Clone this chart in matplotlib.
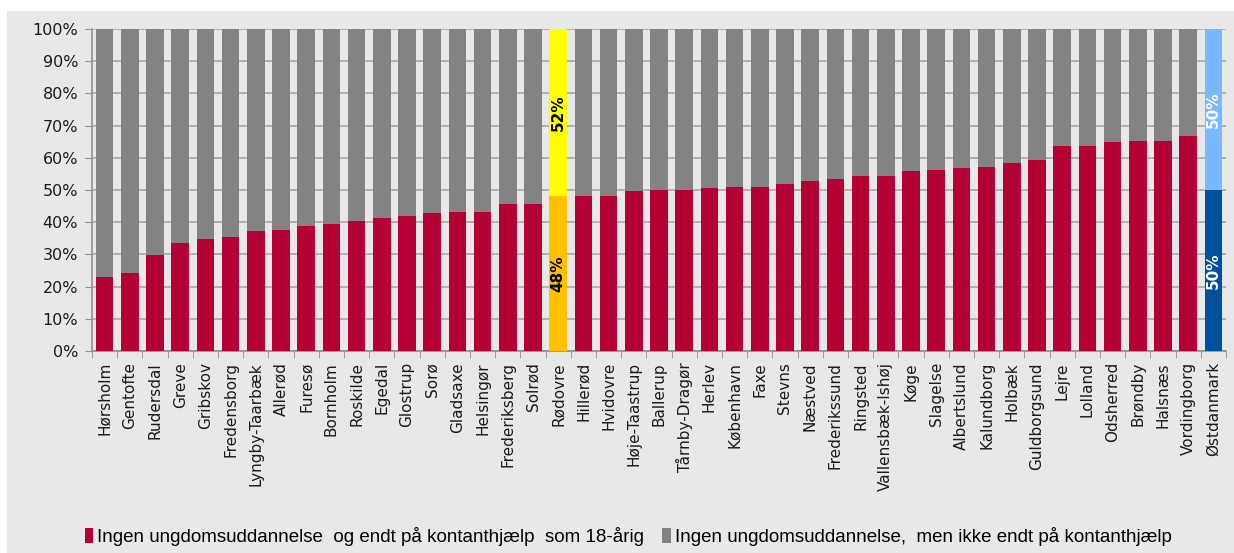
import matplotlib
matplotlib.use("Agg")
import matplotlib.pyplot as plt
from matplotlib.patches import Rectangle, Patch
import numpy as np

categories = ["Hørsholm", "Gentofte", "Rudersdal", "Greve", "Gribskov", "Fredensborg",
              "Lyngby-Taarbæk", "Allerød", "Furesø", "Bornholm", "Roskilde", "Egedal",
              "Glostrup", "Sorø", "Gladsaxe", "Helsingør", "Frederiksberg", "Solrød",
              "Rødovre", "Hillerød", "Hvidovre", "Høje-Taastrup", "Ballerup",
              "Tårnby-Dragør", "Herlev", "København", "Faxe", "Stevns", "Næstved",
              "Frederikssund", "Ringsted", "Vallensbæk-Ishøj", "Køge", "Slagelse",
              "Albertslund", "Kalundborg", "Holbæk", "Guldborgsund", "Lejre", "Lolland",
              "Odsherred", "Brøndby", "Halsnæs", "Vordingborg", "Østdanmark"]
kontant = [23.1, 24.2, 29.7, 33.6, 34.8, 35.4, 37.3, 37.5, 38.9, 39.5, 40.4, 41.3,
           42.0, 42.9, 43.2, 43.2, 45.6, 45.6, 48.2, 48.2, 48.2, 49.7, 50.1, 50.1,
           50.7, 50.9, 50.9, 51.8, 52.8, 53.3, 54.4, 54.5, 56.0, 56.3, 56.8, 57.2,
           58.3, 59.4, 63.7, 63.7, 65.0, 65.3, 65.3, 66.8, 50.0]
ikke_kontant = [100 - v for v in kontant]
series_names = ["Ingen ungdomsuddannelse  og endt på kontanthjælp  som 18-årig",
                "Ingen ungdomsuddannelse,  men ikke endt på kontanthjælp"]
highlight = {"Rødovre": ("#FFC000", "#FFFF00", "black", "48%", "52%"),
             "Østdanmark": ("#00519B", "#78B8FF", "white", "50%", "50%")}

BG = "#E8E8E8"
RED = "#B40033"
GRAY = "#838383"

plt.rcParams['font.family'] = ['DejaVu Sans']
fig = plt.figure(figsize=(12.34, 5.53), dpi=100, facecolor="white")
fig.patches.append(Rectangle((7 / 1234, 0), 1, 1 - 11 / 553, transform=fig.transFigure,
                             facecolor=BG, edgecolor="none", zorder=-10))
ax = fig.add_axes([92 / 1234, 1 - 351 / 553, (1226 - 92) / 1234, (351 - 29) / 553])
ax.set_facecolor(BG)

x = np.arange(len(categories))
c_low = [highlight[c][0] if c in highlight else RED for c in categories]
c_high = [highlight[c][1] if c in highlight else GRAY for c in categories]
ax.bar(x, kontant, width=0.7, color=c_low, zorder=3, label=series_names[0])
ax.bar(x, ikke_kontant, bottom=kontant, width=0.7, color=c_high, zorder=3,
       label=series_names[1])

for i, c in enumerate(categories):
    if c in highlight:
        _, _, tc, t1, t2 = highlight[c]
        ax.text(i, kontant[i] / 2, t1, rotation=90, ha="center", va="center",
                color=tc, fontsize=11, fontweight="bold", zorder=5)
        ax.text(i, kontant[i] + ikke_kontant[i] / 2, t2, rotation=90, ha="center",
                va="center", color=tc, fontsize=11, fontweight="bold", zorder=5)

ax.set_xlim(-0.5, len(categories) - 0.5)
ax.set_ylim(0, 100)
ax.set_yticks(np.arange(0, 101, 10))
ax.set_yticklabels([f"{v}%" for v in range(0, 101, 10)], fontsize=11.5, color="#1a1a1a")
ax.set_xticks(x)
ax.set_xticklabels(categories, rotation=90, fontsize=11, color="#1a1a1a")
ax.set_xticks(np.arange(-0.5, len(categories), 1), minor=True)
ax.tick_params(axis="x", which="major", length=0, pad=8)
ax.tick_params(axis="x", which="minor", length=5, color="#909090", direction="out")
ax.tick_params(axis="y", length=5, color="#909090", direction="out", pad=5)
ax.yaxis.grid(True, color="#A8A8A8", linewidth=1.2, zorder=0)
ax.set_axisbelow(True)
for s in ["top", "right"]:
    ax.spines[s].set_visible(False)
for s in ["left", "bottom"]:
    ax.spines[s].set_color("#909090")
    ax.spines[s].set_linewidth(1.2)

handles = [Patch(facecolor=RED), Patch(facecolor=GRAY)]
fig.legend(handles, series_names, loc="lower center", bbox_to_anchor=(628 / 1234, -0.018),
           ncol=2, frameon=False, handlelength=0.45, handleheight=0.9,
           handletextpad=0.2, columnspacing=1.0,
           prop={'family': ['Liberation Sans Narrow', 'Liberation Sans'], 'size': 13.5})

fig.savefig("out.png", dpi=100, facecolor=fig.get_facecolor())
